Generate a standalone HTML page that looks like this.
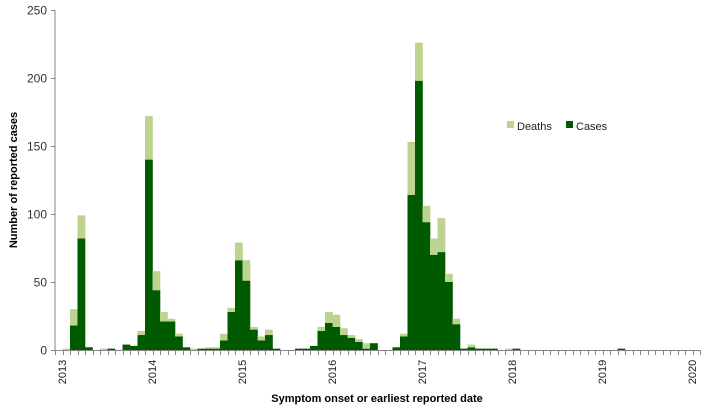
<!DOCTYPE html>
<html><head><meta charset="utf-8"><style>
body{margin:0;background:#fff;width:704px;height:408px;overflow:hidden;font-family:"Liberation Sans",sans-serif}
svg text{font-family:"Liberation Sans",sans-serif}
</style></head><body>
<svg id="chart" width="704" height="408" xmlns="http://www.w3.org/2000/svg"></svg>
<script>
const cases =  [0,0,18,82,2,0,0,1,0,4,3,11,140,44,21,21,10,2,0,1,1,1,7,28,66,51,15,7,11,1,0,0,1,1,3,14,20,17,11,9,6,1,5,0,0,2,10,114,198,94,70,72,50,19,1,2,1,1,1,0,0,1,0,0,0,0,0,0,0,0,0,0,0,0,0,1,0,0,0,0,0,0,0,0,0,0];
const deaths = [0,1,12,17,0,0,1,0,0,0,0,3,32,14,7,2,2,0,1,0,1,1,5,3,13,15,2,3,4,0,0,0,0,0,0,3,8,9,5,2,2,4,0,0,0,0,2,39,28,12,12,25,6,4,0,2,0,0,0,0,1,0,0,0,0,0,0,0,0,0,0,0,0,0,0,0,0,0,0,0,0,0,0,0,0,0];
const yTicks = [0,50,100,150,200,250];
const yearLabels = ["2013","2014","2015","2016","2017","2018","2019","2020"];

const svg = document.getElementById('chart');
const NS = 'http://www.w3.org/2000/svg';
const X0 = 55, X1 = 700, Y0 = 350, Y1 = 10, YMAX = 250;
const N = cases.length;
const bw = (X1 - X0) / N;
const xScale = i => X0 + i * bw;
const yScale = v => Y0 - v / YMAX * (Y0 - Y1);
function mk(tag, attrs){const e=document.createElementNS(NS,tag);for(const k in attrs)e.setAttribute(k,attrs[k]);svg.appendChild(e);return e;}

// bars
for (let i = 0; i < N; i++) {
  if (cases[i] > 0) {
    const r = mk('rect',{x:xScale(i),y:yScale(cases[i]),width:bw+0.3,height:Y0-yScale(cases[i]),fill:'#005a00'});
    
    
  }
  if (deaths[i] > 0) {
    const r = mk('rect',{x:xScale(i),y:yScale(cases[i]+deaths[i]),width:bw+0.3,height:yScale(cases[i])-yScale(cases[i]+deaths[i]),fill:'#bcd48f'});
    
    
  }
}
// y axis
const ya = mk('line',{x1:X0,y1:Y1,x2:X0,y2:Y0,stroke:'#868686','stroke-width':1});


yTicks.forEach(v=>{
  const y = Math.round(yScale(v))+0.5;
  const t = mk('line',{x1:X0-4,y1:y,x2:X0,y2:y,stroke:'#868686'});
  
  
  const l = mk('text',{x:X0-8,y:y+4,'text-anchor':'end','font-size':'12',fill:'#333'});
  l.textContent = v;
  
  
});
// x axis
const xa = mk('line',{x1:X0,y1:Y0+0.5,x2:X1,y2:Y0+0.5,stroke:'#868686','stroke-width':1});


for (let i = 0; i <= N; i++) {
  const x = Math.round(xScale(i))+0.5;
  const t = mk('line',{x1:x,y1:Y0,x2:x,y2:Y0+5,stroke:'#868686'});
  
  
}
yearLabels.forEach((lab,k)=>{
  const x = xScale(k*12) + 7;
  const l = mk('text',{x:0,y:0,'text-anchor':'middle','font-size':'11',fill:'#222',transform:`translate(${x+4},372) rotate(-90)`});
  l.textContent = lab;
  
  
});
// titles
const yt = mk('text',{x:0,y:0,'text-anchor':'middle','font-size':'11','font-weight':'bold',fill:'#000',transform:'translate(17,180) rotate(-90)'});
yt.textContent='Number of reported cases';


const xt = mk('text',{x:377,y:402,'text-anchor':'middle','font-size':'11','font-weight':'bold',fill:'#000'});
xt.textContent='Symptom onset or earliest reported date';


// legend
const lg1 = mk('rect',{x:507,y:121,width:7,height:7,fill:'#bcd48f'});


const lt1 = mk('text',{x:517,y:130,'font-size':'11',fill:'#222'});
lt1.textContent='Deaths';


const lg2 = mk('rect',{x:566,y:121,width:7,height:7,fill:'#005a00'});


const lt2 = mk('text',{x:576,y:130,'font-size':'11',fill:'#222'});
lt2.textContent='Cases';


</script>
</body></html>
